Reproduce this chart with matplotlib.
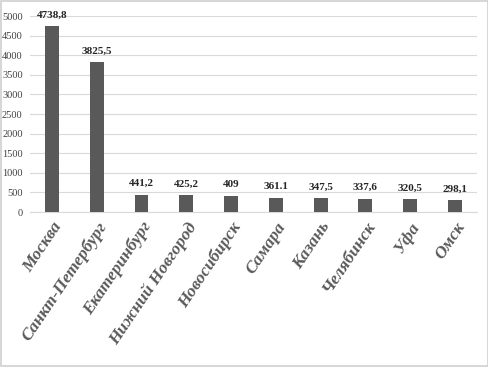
import matplotlib
matplotlib.use("Agg")
import matplotlib.pyplot as plt

cities = ["Москва", "Санкт-Петербург", "Екатеринбург", "Нижний Новгород", "Новосибирск",
          "Самара", "Казань", "Челябинск", "Уфа", "Омск"]
values = [4738.8, 3825.5, 441.2, 425.2, 409, 361.1, 347.5, 337.6, 320.5, 298.1]
value_labels = ["4738,8", "3825,5", "441,2", "425,2", "409", "361.1", "347,5", "337,6", "320,5", "298,1"]
yticks = [0, 500, 1000, 1500, 2000, 2500, 3000, 3500, 4000, 4500, 5000]

plt.rcParams['font.family'] = ['Liberation Serif', 'DejaVu Serif']

fig = plt.figure(figsize=(4.89, 3.67), dpi=100)
ax = fig.add_axes([0.0605, 0.4223, 0.9155, 0.5337])
x = range(len(cities))
ax.bar(x, values, width=0.31, color="#595959", zorder=3)
for xi, v, lab in zip(x, values, value_labels):
    ax.text(xi, v + 170, lab, ha="center", va="bottom", fontsize=8, fontweight="bold",
            color="#262626")
ax.set_xlim(-0.5, len(cities) - 0.5)
ax.set_ylim(0, 5000)
ax.set_yticks(yticks)
ax.set_yticklabels([str(t) for t in yticks], fontsize=7.5, color="#404040")
ax.grid(axis="y", color="#d9d9d9", linewidth=0.8, zorder=0)
ax.set_xticks(list(x))
ax.set_xticklabels(cities, rotation=56, ha="right", rotation_mode="anchor",
                   fontsize=12.5, fontweight="bold", fontstyle="italic", color="#595959")
for lab in ax.get_xticklabels():
    lab.set_x(lab.get_position()[0])
for s in ["top", "right", "left"]:
    ax.spines[s].set_visible(False)
ax.spines["bottom"].set_color("#d9d9d9")
ax.tick_params(axis="both", length=0)
ax.tick_params(axis="y", pad=5)
ax.tick_params(axis="x", pad=5)
fig.patches.append(plt.Rectangle((0.002, 0.003), 0.995, 0.994, transform=fig.transFigure,
                                 fill=False, edgecolor="#d0d0d0", linewidth=1.2))
fig.savefig("out.png", dpi=100)
